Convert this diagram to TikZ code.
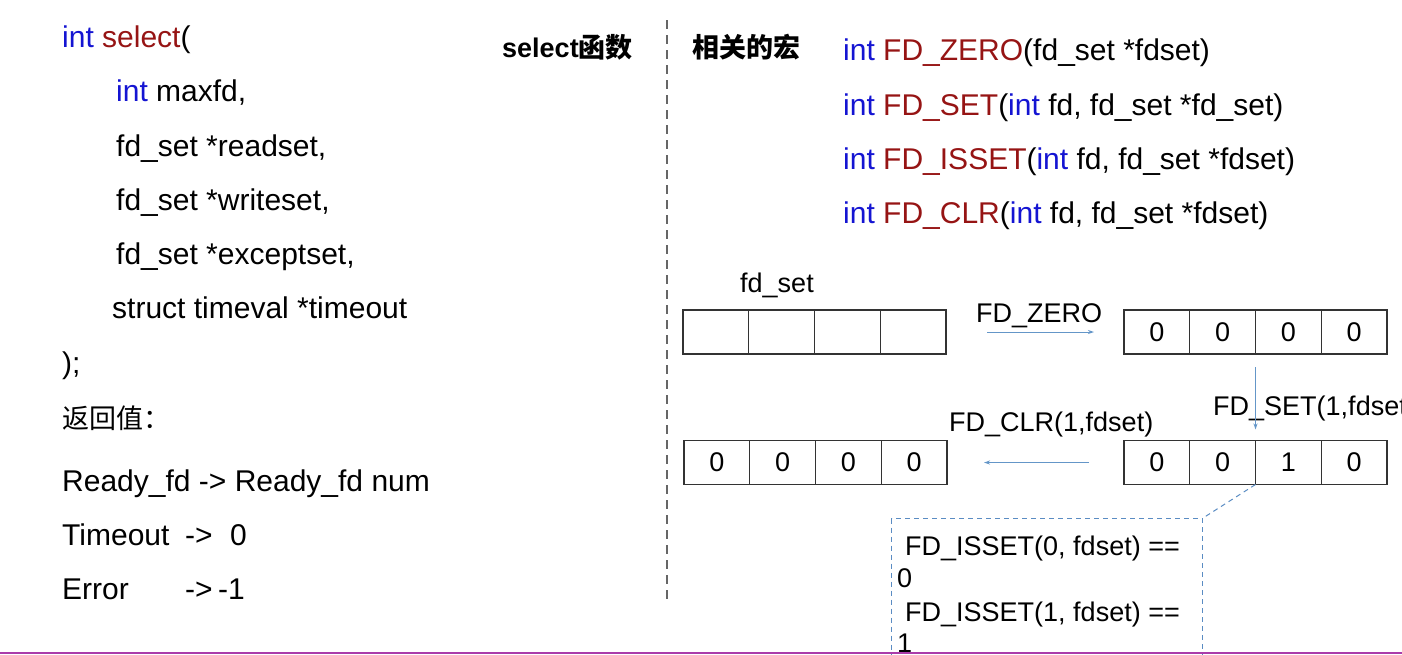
\documentclass[tikz,border=0pt]{standalone}
\usepackage{fontspec}
\setmainfont{Liberation Sans}
\newfontfamily\cjk{Noto Sans CJK SC}
\usetikzlibrary{arrows.meta}
\definecolor{kw}{RGB}{20,20,210}
\definecolor{fn}{RGB}{150,20,20}
\definecolor{arr}{RGB}{100,150,200}
\definecolor{dbox}{RGB}{90,140,195}
\definecolor{edgec}{RGB}{170,60,170}
\begin{document}
\begin{tikzpicture}[x=1pt,y=-1pt,
  code/.style={anchor=base west,inner sep=0pt,font=\fontsize{30}{36}\selectfont},
  lab/.style={anchor=base west,inner sep=0pt,font=\fontsize{27}{32}\selectfont},
  head/.style={anchor=base west,inner sep=0pt,font=\fontsize{27}{31}\selectfont\bfseries},
  cell/.style={draw=black!80,line width=1.2pt,minimum width=65.75pt,minimum height=44pt,inner sep=0pt,outer sep=0pt,font=\fontsize{27}{32}\selectfont},
  flow/.style={draw=arr,line width=1pt,-{Stealth[length=6pt,width=4pt]}},
  dline/.style={draw=dbox,line width=1pt,dash pattern=on 5pt off 4pt}]
\useasboundingbox (0,0) rectangle (1402,654);
\clip (0,0) rectangle (1402,654);
% left column
\node[code] (l1) at (62,47) {\textcolor{kw}{int} \textcolor{fn}{select}(};
\node[code] (l2) at (116,101) {\textcolor{kw}{int} maxfd,};
\node[code] (l3) at (116,156) {fd\_set *readset,};
\node[code] (l4) at (116,210) {fd\_set *writeset,};
\node[code] (l5) at (116,264) {fd\_set *exceptset,};
\node[code] (l6) at (112,318) {struct timeval *timeout};
\node[code] (l7) at (62,373) {);};
\node[code] (l8) at (62,428) {{\cjk\fontsize{27}{32}\selectfont 返回值：}};
\node[code] (l9) at (62,491) {Ready\_fd -> Ready\_fd num};
\node[code] (l10) at (62,545) {Timeout};
\node[code] (l10b) at (185,545) {->};
\node[code] (l10c) at (230,545) {0};
\node[code] (l11) at (62,599) {Error};
\node[code] (l11b) at (185,599) {->};
\node[code] (l11c) at (218,599) {-1};
% headers
\node[head] (h1) at (502,57) {select{\cjk\bfseries 函数}};
\node[head] (h2) at (692,57) {{\cjk\bfseries 相关的宏}};
\draw[black!60,line width=1.2pt,dash pattern=on 9pt off 6pt] (667,20) -- (667,603);
% macros
\node[code] (m1) at (843,60) {\textcolor{kw}{int} \textcolor{fn}{FD\_ZERO}(fd\_set *fdset)};
\node[code] (m2) at (843,115) {\textcolor{kw}{int} \textcolor{fn}{FD\_SET}(\textcolor{kw}{int} fd, fd\_set *fd\_set)};
\node[code] (m3) at (843,169) {\textcolor{kw}{int} \textcolor{fn}{FD\_ISSET}(\textcolor{kw}{int} fd, fd\_set *fdset)};
\node[code] (m4) at (843,223) {\textcolor{kw}{int} \textcolor{fn}{FD\_CLR}(\textcolor{kw}{int} fd, fd\_set *fdset)};
% arrays
\node[lab] (fdl) at (740,292) {fd\_set};
\node[cell] (a1) at (715.875,332) {};
\node[cell] (a2) at (781.625,332) {};
\node[cell] (a3) at (847.375,332) {};
\node[cell] (a4) at (913.125,332) {};
\node[cell] (b1) at (1156.875,332) {0};
\node[cell] (b2) at (1222.625,332) {0};
\node[cell] (b3) at (1288.375,332) {0};
\node[cell] (b4) at (1354.125,332) {0};
\node[cell] (c1) at (1156.875,462.5) {0};
\node[cell] (c2) at (1222.625,462.5) {0};
\node[cell] (c3) at (1288.375,462.5) {1};
\node[cell] (c4) at (1354.125,462.5) {0};
\node[cell] (d1) at (716.875,462.5) {0};
\node[cell] (d2) at (782.625,462.5) {0};
\node[cell] (d3) at (848.375,462.5) {0};
\node[cell] (d4) at (914.125,462.5) {0};
% transitions
\node[lab] (zl) at (976,322) {FD\_ZERO};
\draw[flow] ([xshift=41pt]a4.east) -- ([xshift=-30pt]b1.west);
\node[lab] (sl) at (1213,415) {FD\_SET(1,fdset)};
\draw[flow] ([yshift=-13pt]b3.south west) -- ([yshift=11pt]c3.north west);
\node[lab] (cl) at (949,431) {FD\_CLR(1,fdset)};
\draw[flow] ([xshift=-35pt]c1.west) -- ([xshift=37pt]d4.east);
% check box
\node[dline,draw,minimum width=311pt,minimum height=170pt,inner sep=0pt,anchor=north west] (chk) at (891,518) {};
\draw[dline] (c3.south west) -- (chk.north east);
\node[lab] (k1) at (905,555) {FD\_ISSET(0, fdset) ==};
\node[lab] (k2) at (897,587) {0};
\node[lab] (k3) at (905,621) {FD\_ISSET(1, fdset) ==};
\node[lab] (k4) at (897,652) {1};
\draw[edgec,line width=2pt] (0,653) -- (1402,653);
\end{tikzpicture}
\end{document}
